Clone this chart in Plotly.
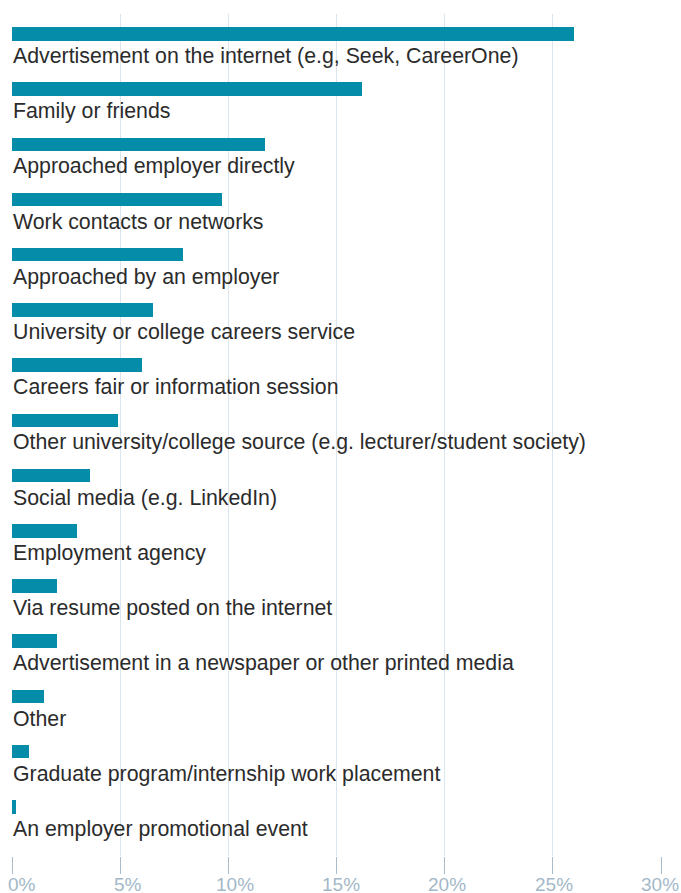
import plotly.graph_objects as go

categories = [
    "Advertisement on the internet (e.g, Seek, CareerOne)",
    "Family or friends",
    "Approached employer directly",
    "Work contacts or networks",
    "Approached by an employer",
    "University or college careers service",
    "Careers fair or information session",
    "Other university/college source (e.g. lecturer/student society)",
    "Social media (e.g. LinkedIn)",
    "Employment agency",
    "Via resume posted on the internet",
    "Advertisement in a newspaper or other printed media",
    "Other",
    "Graduate program/internship work placement",
    "An employer promotional event",
]
values = [26.0, 16.2, 11.7, 9.7, 7.9, 6.5, 6.0, 4.9, 3.6, 3.0, 2.1, 2.1, 1.5, 0.8, 0.2]
tick_values = [0, 5, 10, 15, 20, 25, 30]
tick_labels = ["0%", "5%", "10%", "15%", "20%", "25%", "30%"]

positions = list(range(len(categories)))

fig = go.Figure()
fig.add_trace(go.Bar(
    x=values,
    y=positions,
    orientation="h",
    width=0.245,
    marker=dict(color="#058ca8", line=dict(width=0)),
    hoverinfo="skip",
))

for p, c in zip(positions, categories):
    fig.add_annotation(
        x=0, xref="paper", xanchor="left", xshift=-1,
        y=p + 0.40, yref="y", yanchor="middle",
        text=c, showarrow=False,
        font=dict(family="Liberation Sans, Arial, sans-serif", size=21.3, color="#2b2b2b"),
    )

# x-axis tick labels (slightly shifted like the reference)
for tv, tl in zip(tick_values, tick_labels):
    fig.add_annotation(
        x=tv, xref="x", xanchor="center", xshift=10 - 0.37 * tv,
        y=0, yref="paper", yanchor="middle", yshift=-28,
        text=tl, showarrow=False, borderpad=0,
        font=dict(family="Liberation Sans, Arial, sans-serif", size=19, color="#a3b8c8"),
    )

fig.update_layout(
    width=681, height=893,
    margin=dict(l=12, r=20, t=14, b=37, autoexpand=False),
    paper_bgcolor="white", plot_bgcolor="white",
    showlegend=False,
    bargap=0,
)
fig.update_xaxes(
    range=[0, 30], tickvals=tick_values, showticklabels=False,
    showgrid=True, gridcolor="#dbe5ee", gridwidth=1,
    zeroline=False, showline=False,
    ticks="outside", ticklen=17, tickcolor="#a9bccb", tickwidth=1,
    automargin=False, fixedrange=True,
)
fig.update_yaxes(
    range=[14.89, -0.36], showticklabels=False, showgrid=False,
    zeroline=False, showline=False, automargin=False, fixedrange=True,
)

fig.write_html(
    "out.html",
    config={"displayModeBar": False},
    post_script="document.body.style.margin='0';document.body.style.overflow='hidden';",
)
